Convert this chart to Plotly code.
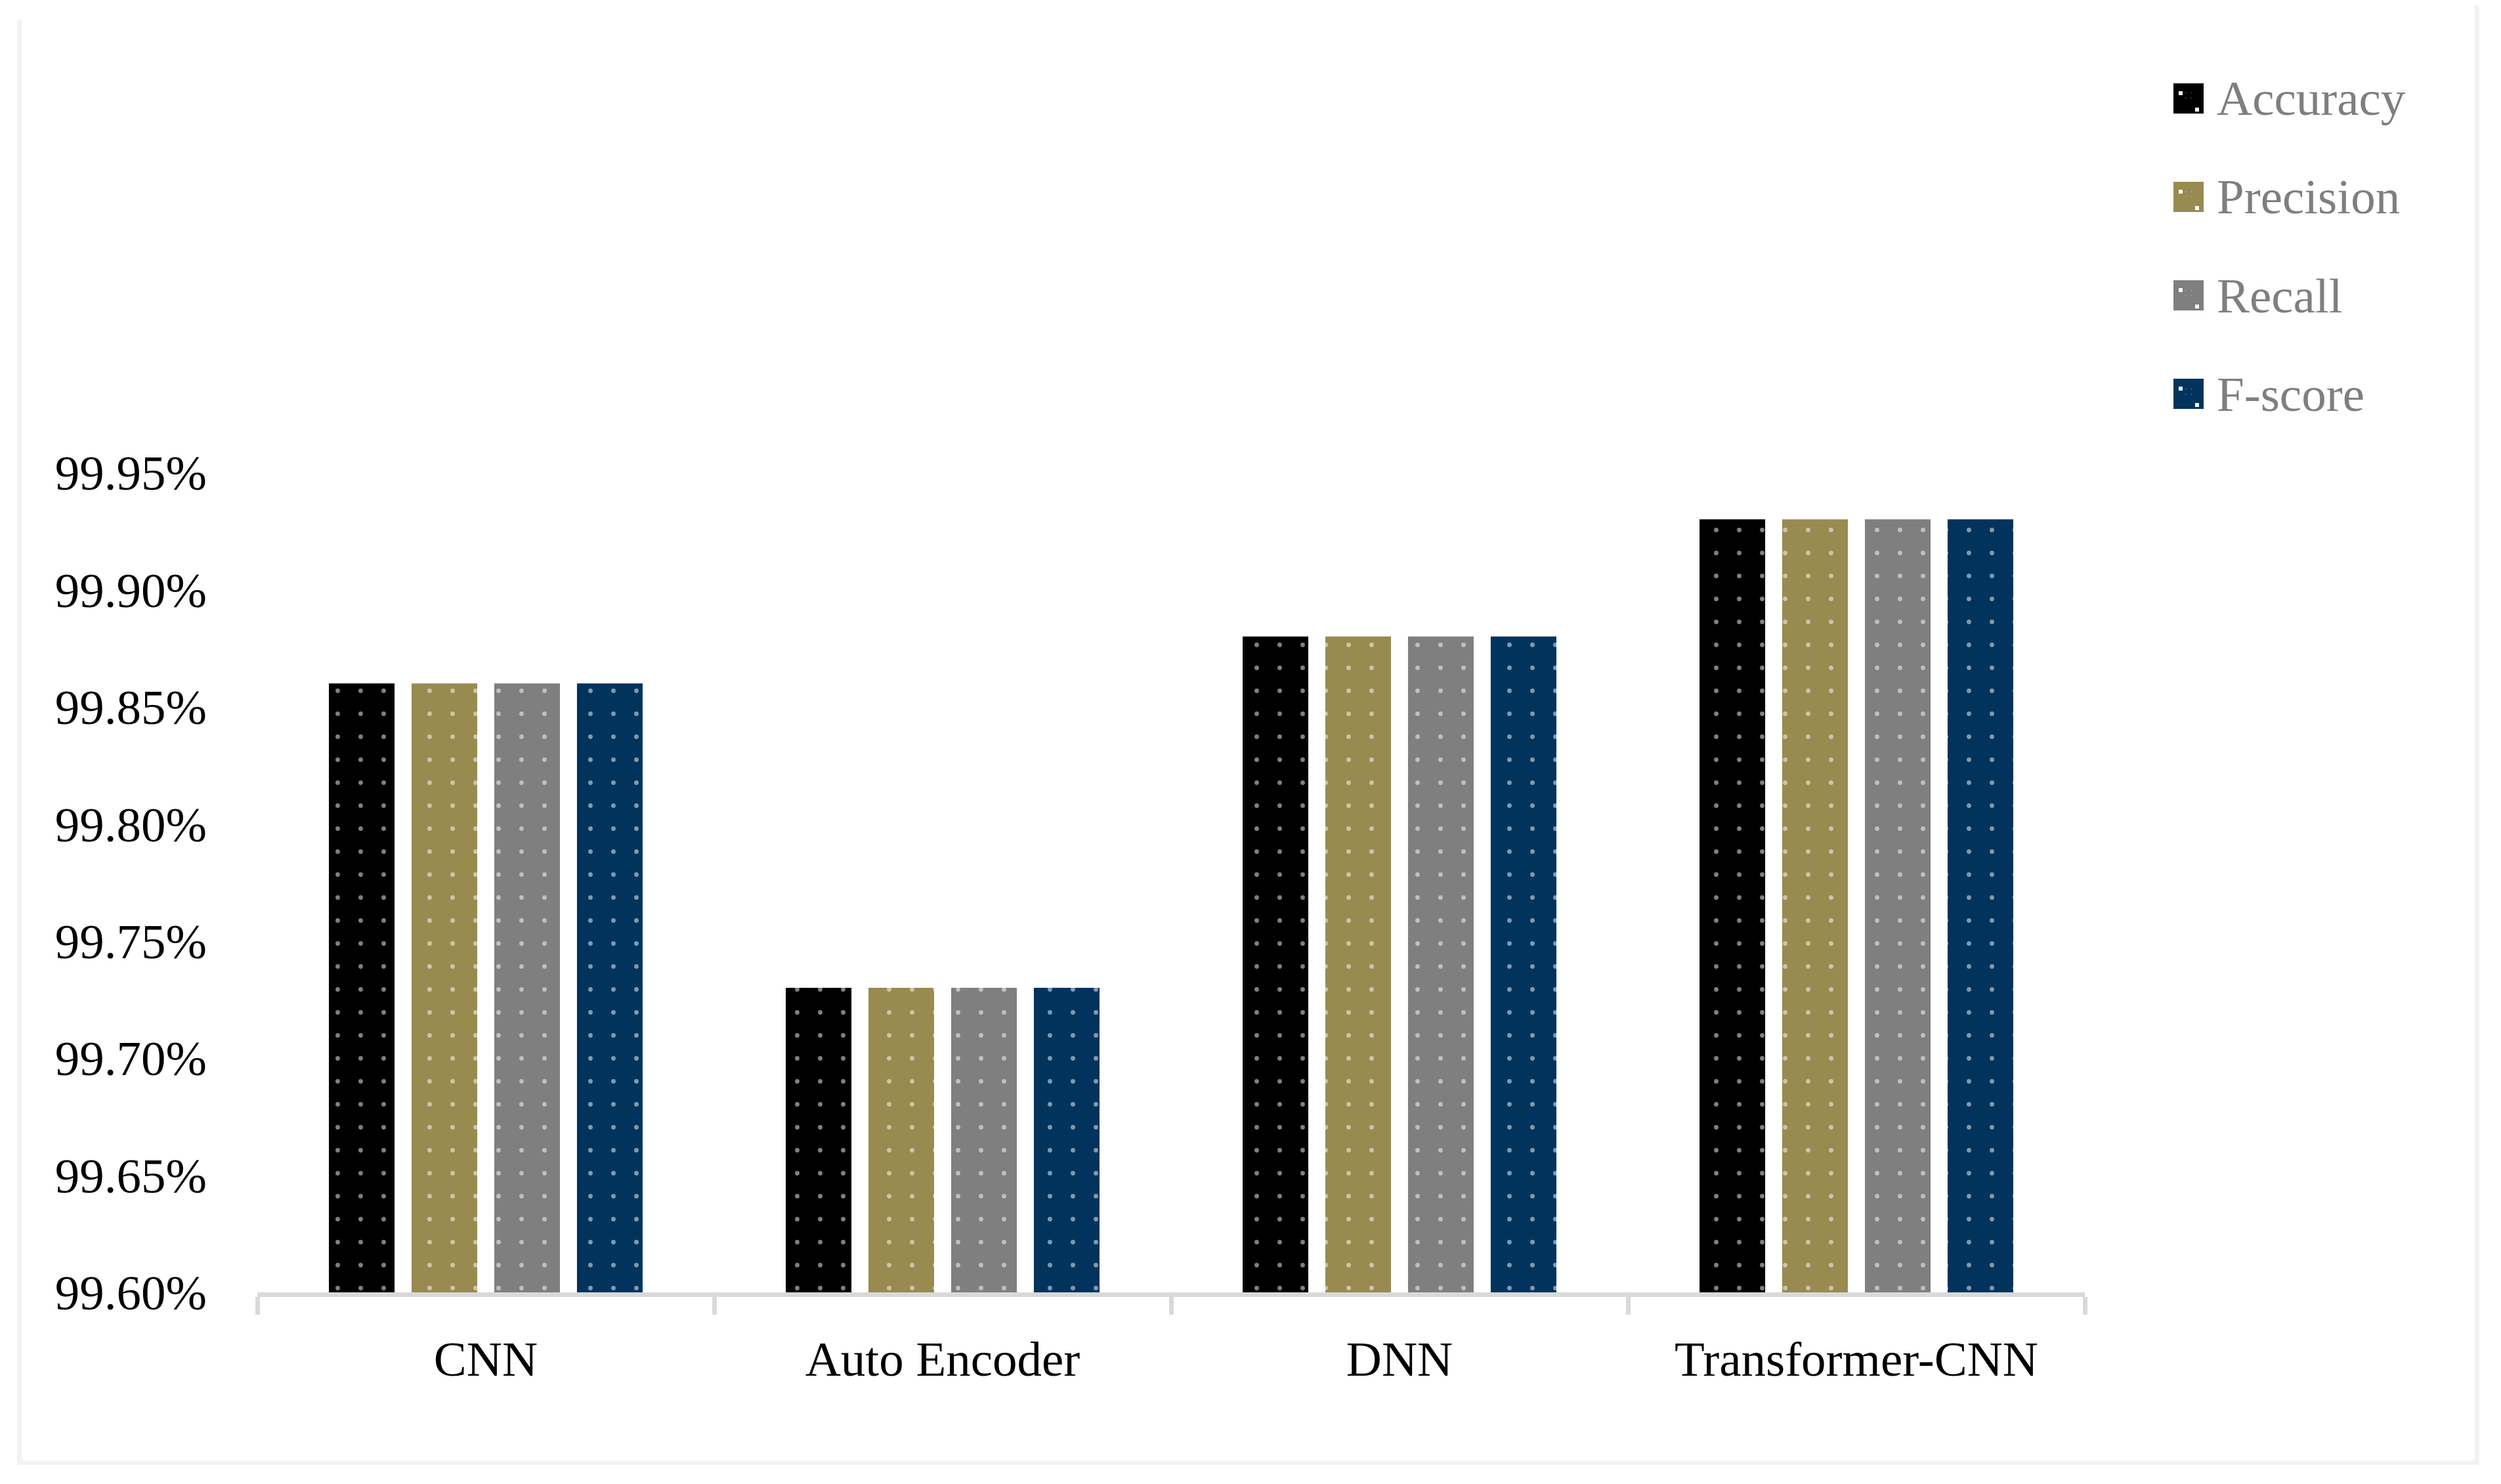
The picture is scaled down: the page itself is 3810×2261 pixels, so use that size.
import plotly.graph_objects as go

categories = ["CNN", "Auto Encoder", "DNN", "Transformer-CNN"]
accuracy = [0.9986, 0.9973, 0.9988, 0.9993]
precision = [0.9986, 0.9973, 0.9988, 0.9993]
recall = [0.9986, 0.9973, 0.9988, 0.9993]
fscore = [0.9986, 0.9973, 0.9988, 0.9993]
series_names = ["Accuracy", "Precision", "Recall", "F-score"]
series_colors = ["#000000", "#998A50", "#7F7F7F", "#02335D"]

# the page body has an 8px margin; work in screen pixels and convert
OFF = 8
W, H = 3810 - OFF, 2261 - OFF
PL, PR, PT, PB = 392, 3176, 720, 1969          # plot area in screen pixels
L, R, T, B = PL - OFF, W - (PR - OFF), PT - OFF, H - (PB - OFF)
FONT = "Liberation Serif"
FS = 75

fig = go.Figure()
for name, vals, col in zip(series_names, [accuracy, precision, recall, fscore], series_colors):
    fig.add_trace(go.Bar(
        x=categories, y=vals, name=name, legendgroup=name,
        marker=dict(color=col, line=dict(width=0),
                    pattern=dict(shape=".", fgcolor="white", bgcolor=col,
                                 size=35, solidity=0.03)),
    ))

pw = PR - PL
ph = PB - PT
def px(x):       # screen x -> paper
    return (x - PL) / pw
def py(y):       # screen y -> paper
    return (PB - y) / ph

border = "#F2F2F2"
shapes = [
    dict(type="line", xref="paper", yref="paper", x0=px(29.5), x1=px(29.5), y0=py(30), y1=py(2228.5),
         line=dict(color=border, width=7)),
    dict(type="line", xref="paper", yref="paper", x0=px(3773), x1=px(3773), y0=py(0), y1=py(2228.5),
         line=dict(color=border, width=7)),
    dict(type="line", xref="paper", yref="paper", x0=px(26), x1=px(3776.5), y0=py(2228.5), y1=py(2228.5),
         line=dict(color=border, width=7)),
]

# larger legend keys drawn behind the native legend symbols
KEY_CX, KEY_CY0, KEY_DY, KEY_S = 3334, 150, 150, 46
for i, col in enumerate(series_colors):
    cy = KEY_CY0 + i * KEY_DY
    shapes.append(dict(type="rect", xref="paper", yref="paper", layer="above",
                       x0=px(KEY_CX - KEY_S / 2), x1=px(KEY_CX + KEY_S / 2),
                       y0=py(cy + KEY_S / 2), y1=py(cy - KEY_S / 2),
                       fillcolor=col, line=dict(width=0)))
    for dx, dy in [(-12, -8), (13, 17)]:
        shapes.append(dict(type="rect", xref="paper", yref="paper", layer="above",
                           x0=px(KEY_CX + dx - 3), x1=px(KEY_CX + dx + 3),
                           y0=py(cy + dy + 3), y1=py(cy + dy - 3),
                           fillcolor="white", line=dict(width=0)))

ITEMW = 76
leg_x = KEY_CX - (5 + ITEMW / 2)          # legend left so symbol centre sits on key
leg_top = KEY_CY0 - 60

fig.update_layout(
    width=W, height=H,
    margin=dict(l=L, r=R, t=T, b=B, autoexpand=False),
    paper_bgcolor="white", plot_bgcolor="white",
    barmode="group", bargap=0.276, bargroupgap=0.206,
    font=dict(family=FONT, size=FS, color="black"),
    showlegend=True,
    legend=dict(x=px(leg_x), xanchor="left", y=py(leg_top), yanchor="top",
                font=dict(family=FONT, size=FS, color="#7F7F7F"),
                traceorder="grouped", tracegroupgap=50, itemwidth=ITEMW,
                bgcolor="rgba(0,0,0,0)"),
    shapes=shapes,
)
fig.update_xaxes(
    showline=True, linecolor="#D9D9D9", linewidth=7,
    ticks="outside", tickson="boundaries", ticklen=27, tickwidth=7, tickcolor="#D9D9D9",
    tickfont=dict(family=FONT, size=FS, color="black"),
    ticklabelstandoff=30,
    showgrid=False, zeroline=False,
)
fig.update_yaxes(
    range=[0.996, 0.9995], tickformat=".2%", dtick=0.0005, tick0=0.996,
    showline=False, showgrid=False, zeroline=False, ticks="",
    tickfont=dict(family=FONT, size=FS, color="black"),
    ticklabelstandoff=76,
)

fig.write_html("out.html")
